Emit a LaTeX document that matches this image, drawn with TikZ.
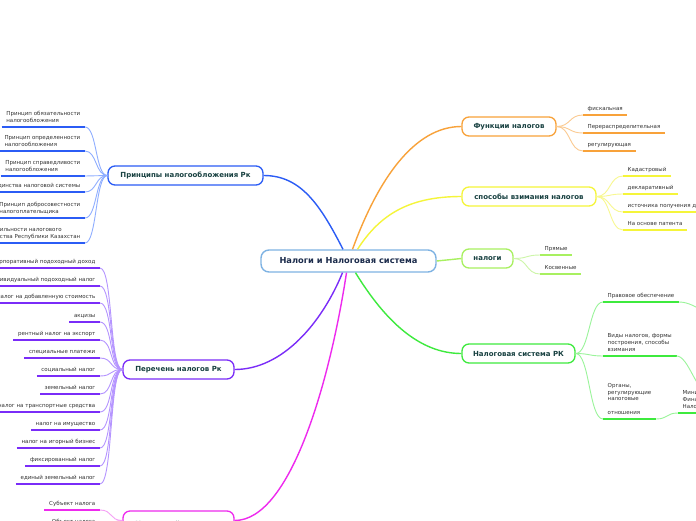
\documentclass[tikz,border=0pt]{standalone}
\usepackage{fontspec}
\setmainfont{DejaVu Sans}
\definecolor{cblue}{HTML}{2B5CF5}
\definecolor{cbluel}{HTML}{8FAEFF}
\definecolor{corange}{HTML}{F8A23A}
\definecolor{corangel}{HTML}{FBCB92}
\definecolor{cyellow}{HTML}{F5F53A}
\definecolor{cyellowl}{HTML}{F8F890}
\definecolor{clgreen}{HTML}{A8F060}
\definecolor{clgreenl}{HTML}{CDF6A8}
\definecolor{cgreen}{HTML}{3EEA3E}
\definecolor{cgreenl}{HTML}{9AF49A}
\definecolor{cpurple}{HTML}{7A2CF8}
\definecolor{cpurplel}{HTML}{B594FF}
\definecolor{cmag}{HTML}{EE2AEE}
\definecolor{cmagl}{HTML}{F5A0F5}
\definecolor{ccenter}{HTML}{7FB3E3}
\definecolor{ctext}{HTML}{1B2B4B}
\definecolor{ntext}{HTML}{174040}
\definecolor{ltext}{HTML}{333333}
\tikzset{
  centernode/.style={draw=ccenter, line width=1.4pt, rounded corners=8pt, fill=white, inner sep=0pt,
    minimum width=175pt, minimum height=22pt, font=\fontsize{8.3}{9}\selectfont\bfseries, text=ctext},
  branch/.style={draw=#1, line width=1.3pt, rounded corners=7pt, fill=white, inner sep=0pt,
    minimum height=19pt, font=\fontsize{7}{8}\selectfont\bfseries, text=ntext},
  leaf/.style={inner xsep=4.5pt, inner ysep=3.5pt, text depth=1.3pt,
    font=\fontsize{5.5}{6.6}\selectfont, text=ltext, align=left},
  ul/.style={draw=#1, line width=1.8pt},
  link/.style={draw=#1, line width=0.9pt},
  mainlink/.style={draw=#1, line width=1.4pt}
}
\begin{document}
\begin{tikzpicture}[x=1pt,y=-1pt]
\useasboundingbox (0,0) rectangle (696,520);
\clip (0,0) rectangle (696,520);
\fill[white] (0,0) rectangle (696,520);

\node[centernode] (c) at (348.5,261) {Налоги и Налоговая система};

\node[branch=corange, minimum width=94pt] (fn) at (509,126.5) {Функции налогов};
\node[branch=cyellow, minimum width=134pt] (sp) at (529,196.5) {способы взимания налогов};
\node[branch=clgreen, minimum width=51pt] (nl) at (487.5,258.5) {налоги};
\node[branch=cgreen, minimum width=113pt] (ns) at (518.5,353.5) {Налоговая система РК};
\node[branch=cblue, minimum width=155pt] (pr) at (185.5,175.5) {Принципы налогообложения Рк};
\node[branch=cpurple, minimum width=111pt] (pe) at (178.5,369.5) {Перечень налогов Рк};
\node[branch=cmag, minimum width=111pt, minimum height=25pt] (mx) at (178.5,523.5) {Налоговый механизм};

% ---------- leaves ----------
% orange
\node[leaf, anchor=south west] (f1) at (583,115) {фискальная};
\node[leaf, anchor=south west] (f2) at (583,133) {Перераспределительная};
\node[leaf, anchor=south west] (f3) at (583,151) {регулирующая};
% yellow
\node[leaf, anchor=south west] (s1) at (623,176) {Кадастровый};
\node[leaf, anchor=south west] (s2) at (623,194) {декларативный};
\node[leaf, anchor=south west] (s3) at (623,212) {источника получения дохода};
\node[leaf, anchor=south west] (s4) at (623,230) {На основе патента};
% light green
\node[leaf, anchor=south west] (n1) at (540,255) {Прямые};
\node[leaf, anchor=south west] (n2) at (540,274) {Косвенные};
% green
\node[leaf, anchor=south west] (g1) at (603,302) {Правовое обеспечение};
\node[leaf, anchor=south west] (g2) at (603,356) {Виды налогов, формы\\построения, способы\\взимания};
\node[leaf, anchor=south west] (g3) at (603,419) {Органы,\\регулирующие\\налоговые\\[6.6pt]отношения};
\node[leaf, anchor=south west] (g4) at (678,413) {Министерство\\Финансов РК,\\Налоговый комитет};
\coordinate (g1x) at (730,322);
\coordinate (g2x) at (708,392);
% blue
\node[leaf, anchor=south east] (b1) at (85,127) {Принцип обязательности\\налогообложения};
\node[leaf, anchor=south east] (b2) at (85,151) {Принцип определенности\\налогообложения};
\node[leaf, anchor=south east] (b3) at (85,176) {Принцип справедливости\\налогообложения};
\node[leaf, anchor=south east] (b4) at (85,192) {Принцип единства налоговой системы};
\node[leaf, anchor=south east] (b5) at (85,218) {Принцип добросовестности\\налогоплательщика};
\node[leaf, anchor=south east] (b6) at (85,243) {Принцип стабильности налогового\\законодательства Республики Казахстан};
% purple
\node[leaf, anchor=south east] (p1) at (100,268) {Корпоративный подоходный доход};
\node[leaf, anchor=south east] (p2) at (100,286) {Индивидуальный подоходный налог};
\node[leaf, anchor=south east] (p3) at (100,303) {налог на добавленную стоимость};
\node[leaf, anchor=south east] (p4) at (100,322) {акцизы};
\node[leaf, anchor=south east] (p5) at (100,340) {рентный налог на экспорт};
\node[leaf, anchor=south east] (p6) at (100,358) {специальные платежи};
\node[leaf, anchor=south east] (p7) at (100,376) {социальный налог};
\node[leaf, anchor=south east] (p8) at (100,394) {земельный налог};
\node[leaf, anchor=south east] (p9) at (100,412) {налог на транспортные средства};
\node[leaf, anchor=south east] (p10) at (100,430) {налог на имущество};
\node[leaf, anchor=south east] (p11) at (100,448) {налог на игорный бизнес};
\node[leaf, anchor=south east] (p12) at (100,466) {фиксированный налог};
\node[leaf, anchor=south east] (p13) at (100,484) {единый земельный налог};
% magenta
\node[leaf, anchor=south east] (m1) at (100,510) {Субъект налога};
\node[leaf, anchor=south east] (m2) at (100,528) {Объект налога};

% ---------- main connectors ----------
\draw[mainlink=cblue] ([xshift=-5.5pt]c.north) .. controls +(-23,-45) and +(37,0) .. (pr.east);
\draw[mainlink=corange] ([xshift=4pt]c.north) .. controls +(25.5,-70) and +(-47,0) .. (fn.west);
\draw[mainlink=cyellow] ([xshift=9pt]c.north) .. controls +(22.5,-35) and +(-52,0) .. (sp.west);
\draw[mainlink=clgreen] (c.east) -- (nl.west);
\draw[mainlink=cgreen] ([xshift=7pt]c.south) .. controls +(29.5,48) and +(-42,0) .. (ns.west);
\draw[mainlink=cpurple] ([xshift=-6pt]c.south) .. controls +(-20.5,50) and +(48,0) .. (pe.east);
\draw[mainlink=cmag] ([xshift=-2pt]c.south) .. controls +(-16.5,108) and +(56,0) .. ([yshift=3pt]mx.east);

% ---------- leaf connectors and underlines ----------
\foreach \n in {f1,f2,f3} {
  \draw[link=corangel] (fn.east) .. controls +(14,0) and +(-14,0) .. (\n.south west);
  \draw[ul=corange] (\n.south west) -- (\n.south east);
}
\foreach \n in {s1,s2,s3,s4} {
  \draw[link=cyellowl] (sp.east) .. controls +(14,0) and +(-14,0) .. (\n.south west);
  \draw[ul=cyellow] (\n.south west) -- (\n.south east);
}
\foreach \n in {n1,n2} {
  \draw[link=clgreenl] (nl.east) .. controls +(14,0) and +(-14,0) .. (\n.south west);
  \draw[ul=clgreen] (\n.south west) -- (\n.south east);
}
\foreach \n in {g1,g2,g3} {
  \draw[link=cgreenl] (ns.east) .. controls +(14,0) and +(-14,0) .. (\n.south west);
  \draw[ul=cgreen] (\n.south west) -- (\n.south east);
}
\draw[link=cgreenl] (g3.south east) .. controls +(12,0) and +(-12,0) .. (g4.south west);
\draw[ul=cgreen] (g4.south west) -- (g4.south east);
\draw[link=cgreenl] (g1.south east) .. controls +(18,0) and +(-18,0) .. (g1x);
\draw[link=cgreenl] (g2.south east) .. controls +(12,0) and +(-12,0) .. (g2x);

\foreach \n in {b1,b2,b3,b4,b5,b6} {
  \draw[link=cbluel] (pr.west) .. controls +(-12,0) and +(12,0) .. (\n.south east);
  \draw[ul=cblue] (\n.south west) -- (\n.south east);
}
\foreach \n in {p1,p2,p3,p4,p5,p6,p7,p8,p9,p10,p11,p12,p13} {
  \draw[link=cpurplel] (pe.west) .. controls +(-13,0) and +(13,0) .. (\n.south east);
  \draw[ul=cpurple] (\n.south west) -- (\n.south east);
}
\foreach \n in {m1,m2} {
  \draw[link=cmagl] ([yshift=3pt]mx.west) .. controls +(-13,0) and +(13,0) .. (\n.south east);
  \draw[ul=cmag] (\n.south west) -- (\n.south east);
}
\end{tikzpicture}
\end{document}
